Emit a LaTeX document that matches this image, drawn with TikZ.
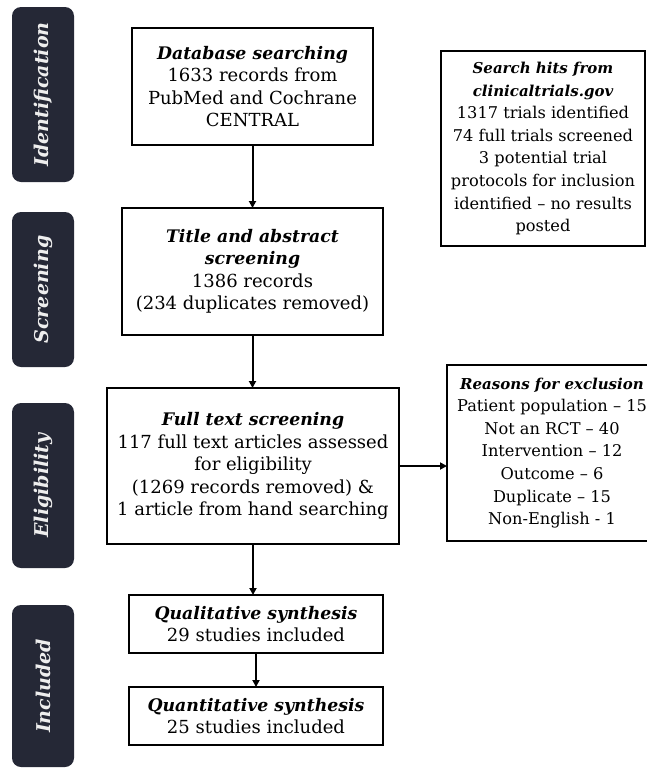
\documentclass[tikz,border=0pt]{standalone}
\usepackage{fontspec}
\setmainfont{DejaVu Serif}
\usetikzlibrary{arrows.meta}
\definecolor{labelbg}{HTML}{252836}
\definecolor{labeltext}{HTML}{EEEEEE}
\newcommand\hd[1]{{\fontsize{17.3}{22.5}\selectfont\bfseries\itshape #1}}
\newcommand\shd[1]{{\fontsize{15}{22.5}\selectfont\bfseries\itshape #1}}
\begin{document}
\begin{tikzpicture}[x=1pt,y=-1pt,
  every node/.style={inner sep=0pt, outer sep=0pt},
  box/.style={draw, line width=1.8pt, align=center, font=\fontsize{18}{22.5}\selectfont},
  sidebox/.style={box, font=\fontsize{16.2}{22.6}\selectfont},
  stage/.style={fill=labelbg, rounded corners=9pt, minimum width=62pt},
  stagetext/.style={rotate=90, text=labeltext, font=\fontsize{19}{22}\selectfont\bfseries\itshape},
  arr/.style={line width=2pt, -{Triangle[length=7pt,width=7pt]}}]
\useasboundingbox (0,0) rectangle (647,769);
% stage labels
\node[stage, minimum height=175pt] (s1) at (43,94.5) {};
\node[stagetext] (t1) at (s1.center) {Identification};
\node[stage, minimum height=155pt] (s2) at (43,289.5) {};
\node[stagetext] (t2) at (s2.center) {Screening};
\node[stage, minimum height=165pt] (s3) at (43,485.5) {};
\node[stagetext] (t3) at (s3.center) {Eligibility};
\node[stage, minimum height=162pt] (s4) at (43,686) {};
\node[stagetext] (t4) at (s4.center) {Included};
% boxes
\node[box, minimum width=241pt, minimum height=117pt] (b1) at (252.5,86.5)
 {\hd{Database searching}\\1633 records from\\PubMed and Cochrane\\CENTRAL};
\node[sidebox, minimum width=204pt, minimum height=195pt] (sh) at (543,148.5)
 {\shd{Search hits from}\\\shd{clinicaltrials.gov}\\1317 trials identified\\74 full trials screened\\3 potential trial\\protocols for inclusion\\identified – no results\\posted};
\node[box, minimum width=261pt, minimum height=127pt] (b2) at (252.5,271.5)
 {\hd{Title and abstract}\\\hd{screening}\\1386 records\\(234 duplicates removed)};
\node[box, minimum width=292pt, minimum height=156pt] (b3) at (253,466)
 {\hd{Full text screening}\\117 full text articles assessed\\for eligibility\\(1269 records removed) \&\\1 article from hand searching};
\node[sidebox, minimum width=210pt, minimum height=176pt] (re) at (552,453)
 {\shd{Reasons for exclusion}\\Patient population – 15\\Not an RCT – 40\\Intervention – 12\\Outcome – 6\\Duplicate – 15\\Non-English - 1};
\node[box, minimum width=254pt, minimum height=58pt] (b4) at (256,624)
 {\hd{Qualitative synthesis}\\29 studies included};
\node[box, minimum width=254pt, minimum height=58pt] (b5) at (256,716)
 {\hd{Quantitative synthesis}\\25 studies included};
% arrows
\draw[arr] (b1.south) -- (b2.north);
\draw[arr] (b2.south) -- (b2.south |- b3.north);
\draw[arr] (b3.south) -- (b3.south |- b4.north);
\draw[arr] (b4.south) -- (b5.north);
\draw[arr] (b3.east) -- (b3.east -| re.west);
\end{tikzpicture}
\end{document}
